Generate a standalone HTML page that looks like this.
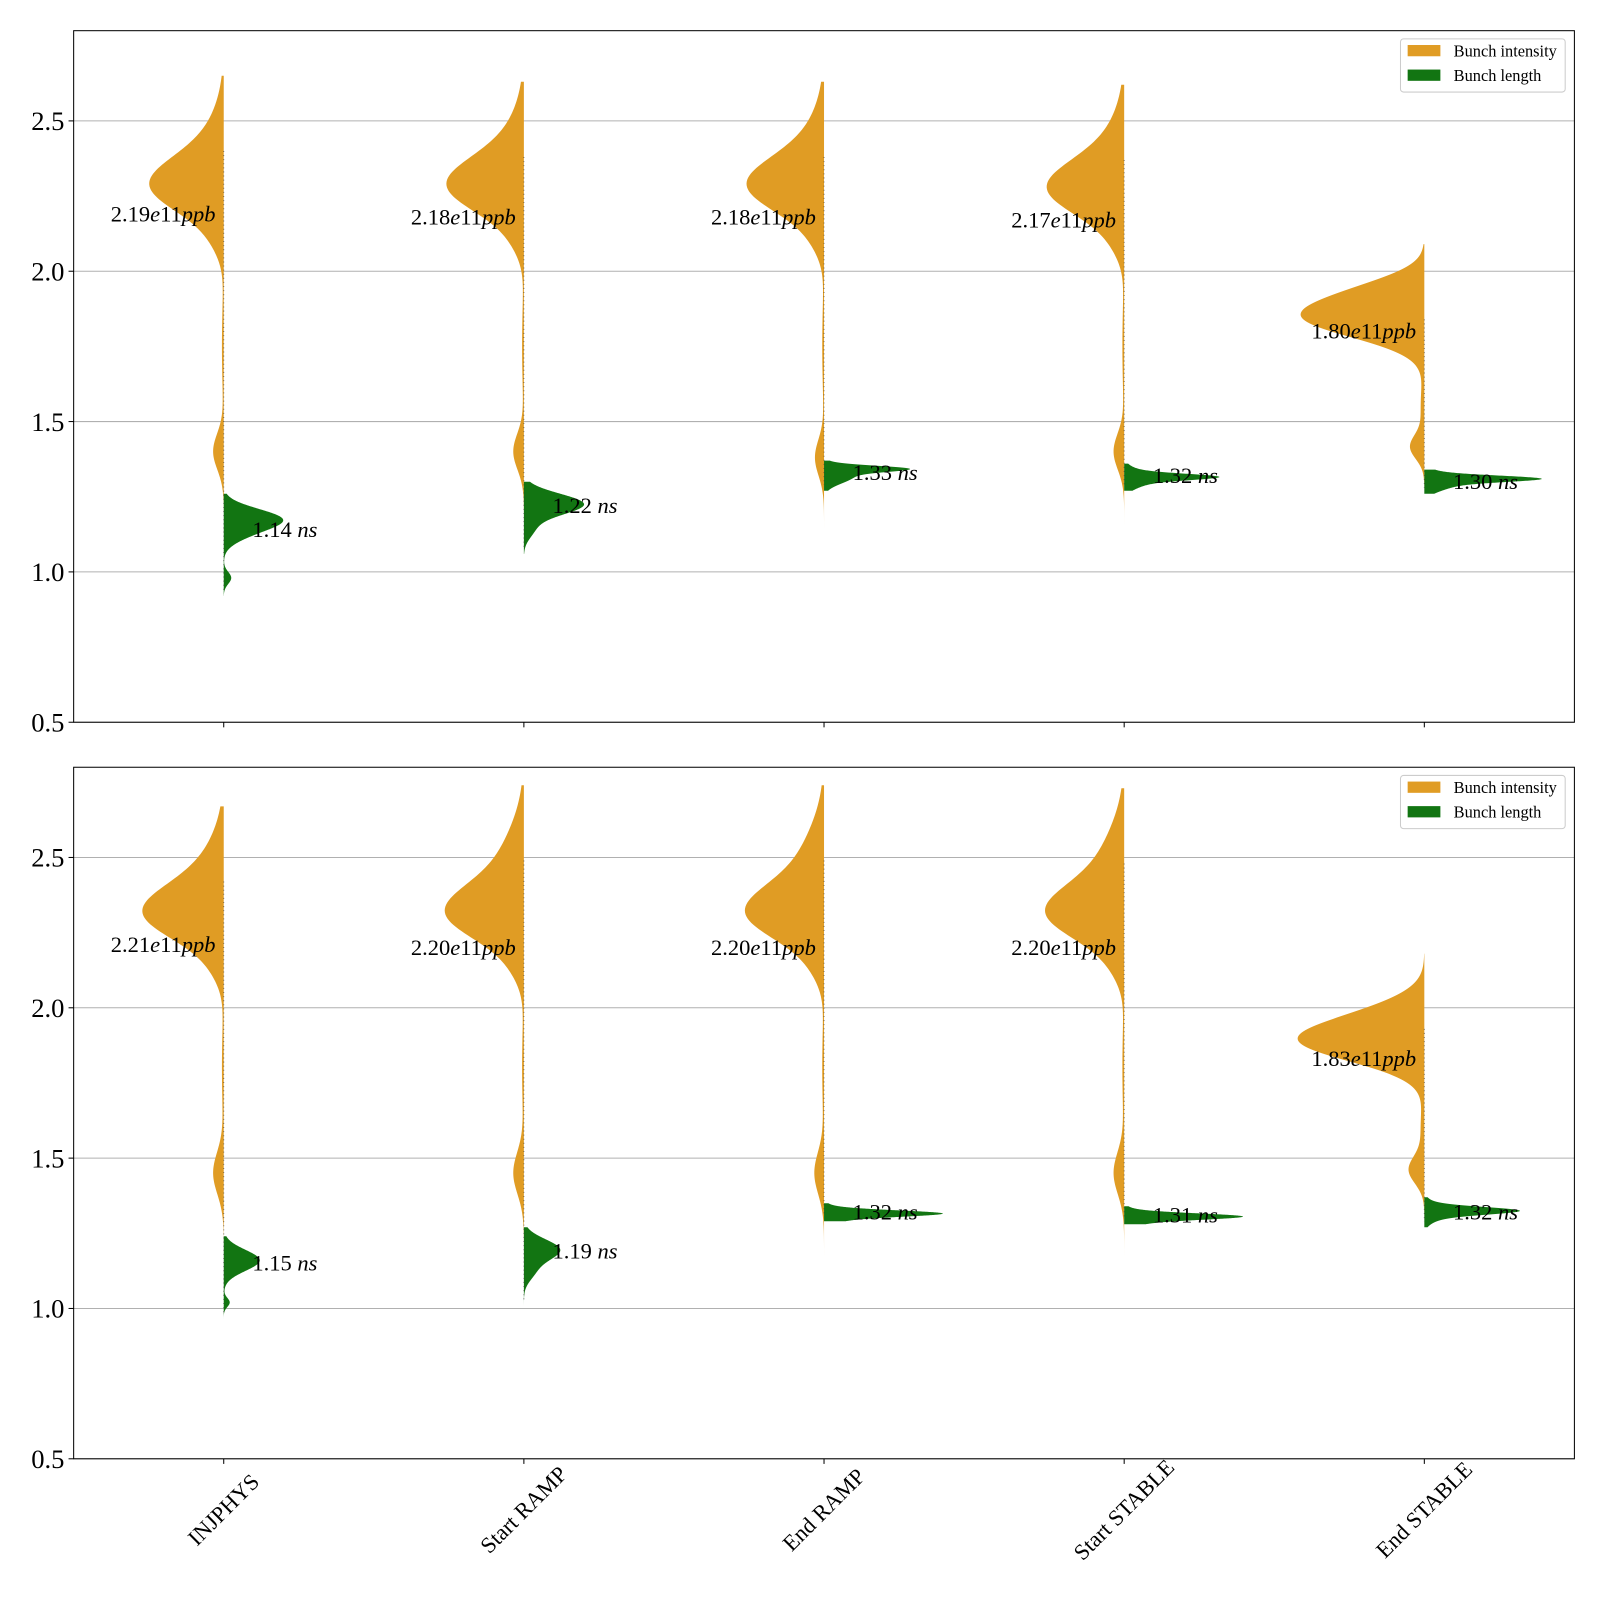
<!DOCTYPE html>
<html><head><meta charset="utf-8"><style>
body{margin:0;background:#fff}
svg text{font-family:"Liberation Serif",serif}
</style></head><body>
<svg id="svgroot" width="1600" height="1600" viewBox="0 0 1600 1600" xmlns="http://www.w3.org/2000/svg"><g id="chart" transform="scale(1.023)"></g></svg>
<script>
const categories = ["INJPHYS","Start RAMP","End RAMP","Start STABLE","End STABLE"];
const yTicks = [0.5,1.0,1.5,2.0,2.5];
const medIntensityTop = [2.19,2.18,2.18,2.17,1.80];
const medLengthTop = [1.14,1.22,1.33,1.32,1.30];
const medIntensityBot = [2.21,2.20,2.20,2.20,1.83];
const medLengthBot = [1.15,1.19,1.32,1.31,1.32];
// density components per violin: [mean, sd, amplitude(category width fraction)]
const intensityCompsTop = [
 [[2.28,0.09,0.21],[2.40,0.12,0.06],[2.10,0.06,0.02],[1.75,0.15,0.006],[1.40,0.06,0.035]],
 [[2.28,0.09,0.22],[2.40,0.12,0.06],[2.10,0.06,0.02],[1.75,0.15,0.006],[1.40,0.06,0.035]],
 [[2.28,0.09,0.22],[2.40,0.12,0.06],[2.10,0.06,0.02],[1.75,0.15,0.006],[1.38,0.06,0.03]],
 [[2.27,0.09,0.22],[2.39,0.12,0.06],[2.09,0.06,0.02],[1.75,0.15,0.006],[1.40,0.06,0.035]],
 [[1.85,0.07,0.40],[1.95,0.05,0.08],[1.415,0.04,0.045],[1.55,0.08,0.012]]
];
const intensityRangeTop = [[1.2,2.65],[1.1,2.63],[1.1,2.63],[1.1,2.62],[1.19,2.09]];
const lengthCompsTop = [
 [[1.175,0.035,0.19],[1.12,0.03,0.04],[0.98,0.02,0.025]],
 [[1.225,0.035,0.20],[1.14,0.03,0.03]],
 [[1.343,0.010,0.22],[1.32,0.025,0.10]],
 [[1.316,0.010,0.22],[1.31,0.025,0.10]],
 [[1.31,0.010,0.28],[1.30,0.025,0.12]]
];
const lengthRangeTop = [[0.92,1.26],[1.06,1.30],[1.27,1.37],[1.27,1.36],[1.26,1.34]];
const intensityCompsBot = [
 [[2.31,0.09,0.23],[2.44,0.12,0.07],[2.13,0.06,0.02],[1.80,0.15,0.006],[1.45,0.07,0.035]],
 [[2.31,0.09,0.22],[2.46,0.13,0.08],[2.13,0.06,0.02],[1.80,0.15,0.006],[1.45,0.07,0.035]],
 [[2.31,0.09,0.22],[2.46,0.13,0.08],[2.13,0.06,0.02],[1.80,0.15,0.006],[1.45,0.07,0.032]],
 [[2.31,0.09,0.22],[2.46,0.13,0.08],[2.13,0.06,0.02],[1.80,0.15,0.006],[1.45,0.07,0.035]],
 [[1.89,0.07,0.40],[1.99,0.06,0.08],[1.46,0.045,0.05],[1.60,0.08,0.012]]
];
const intensityRangeBot = [[1.2,2.67],[1.1,2.74],[1.1,2.74],[1.1,2.73],[1.18,2.18]];
const lengthCompsBot = [
 [[1.16,0.035,0.12],[1.02,0.015,0.02]],
 [[1.195,0.035,0.12],[1.12,0.03,0.03]],
 [[1.316,0.010,0.30],[1.31,0.02,0.10]],
 [[1.306,0.010,0.30],[1.30,0.02,0.10]],
 [[1.325,0.012,0.24],[1.32,0.025,0.08]]
];
const lengthRangeBot = [[0.96,1.24],[1.01,1.27],[1.29,1.35],[1.28,1.34],[1.27,1.37]];

const NS="http://www.w3.org/2000/svg";
const svg=document.getElementById('chart');
function mk(tag,attrs,parent){const e=document.createElementNS(NS,tag);for(const k in attrs)e.setAttribute(k,attrs[k]);(parent||svg).appendChild(e);return e;}
const X0=72,X1=1539,YMIN=0.5,YMAX=2.8;
const catW=(X1-X0)/categories.length;
function xScale(i){return X0+catW*(i+0.5);}
function dens(comps,v){let s=0;for(const c of comps){const z=(v-c[0])/c[1];s+=c[2]*Math.exp(-0.5*z*z);}return s;}

function panel(top,bottom,iComps,iRange,lComps,lRange,medI,medL,showX,pname){
  const g=mk('g',{});
  
  
  const yScale=v=>bottom-(v-YMIN)/(YMAX-YMIN)*(bottom-top);
  yTicks.forEach(t=>{
    const y=yScale(t);
    const l=mk('line',{x1:X0,x2:X1,y1:y,y2:y,stroke:'#b0b0b0','stroke-width':1},g);
    
    
    mk('line',{x1:X0-5,x2:X0,y1:y,y2:y,stroke:'#000'},g);
    const tx=mk('text',{x:X0-9,y:y+9,'text-anchor':'end','font-size':26},g);
    tx.textContent=t.toFixed(1);
    
    
  });
  categories.forEach((c,i)=>{
    const cx=xScale(i);
    mk('line',{x1:cx,x2:cx,y1:bottom,y2:bottom+5,stroke:'#000'},g);
    let d='',lo=iRange[i][0],hi=iRange[i][1];
    const N=240;
    for(let k=0;k<=N;k++){const v=lo+(hi-lo)*k/N;const w=dens(iComps[i],v)*catW;d+=(k?'L':'M')+(cx-w).toFixed(2)+','+yScale(v).toFixed(2);}
    d+='L'+cx+','+yScale(hi)+'L'+cx+','+yScale(lo)+'Z';
    const p1=mk('path',{d:d,fill:'#e09c24'},g);
    
    
    d='';lo=lRange[i][0];hi=lRange[i][1];
    for(let k=0;k<=N;k++){const v=lo+(hi-lo)*k/N;const w=dens(lComps[i],v)*catW;d+=(k?'L':'M')+(cx+w).toFixed(2)+','+yScale(v).toFixed(2);}
    d+='L'+cx+','+yScale(hi)+'L'+cx+','+yScale(lo)+'Z';
    const p2=mk('path',{d:d,fill:'#127512'},g);
    
    
    mk('line',{x1:cx,x2:cx,y1:yScale(iRange[i][1]-0.25),y2:yScale(lRange[i][0]+0.02),stroke:'#333','stroke-width':1,'stroke-dasharray':'1 3',opacity:0.6},g);
    const t1=mk('text',{x:cx-8,y:yScale(medI[i])+7,'text-anchor':'end','font-size':22},g);
    t1.innerHTML=medI[i].toFixed(2)+'<tspan font-style="italic">e</tspan>11<tspan font-style="italic">ppb</tspan>';
    
    
    const t2=mk('text',{x:cx+28,y:yScale(medL[i])+7,'font-size':22},g);
    t2.innerHTML=medL[i].toFixed(2)+' <tspan font-style="italic">ns</tspan>';
    
    
    if(showX){
      const px=cx, py=bottom+50;
      const xt=mk('text',{x:px,y:py+7,'text-anchor':'middle','font-size':22,transform:`rotate(-45 ${px} ${py})`},g);
      xt.textContent=c;
      
      
    }
  });
  const fr=mk('rect',{x:X0,y:top,width:X1-X0,height:bottom-top,fill:'none',stroke:'#000','stroke-width':1},g);
  
  
  const lg=mk('g',{},g);
  
  
  mk('rect',{x:1369,y:top+8,width:161,height:52,rx:3,fill:'#fff',stroke:'#ccc'},lg);
  mk('rect',{x:1376,y:top+14,width:32,height:11,fill:'#e09c24'},lg);
  mk('rect',{x:1376,y:top+38,width:32,height:11,fill:'#127512'},lg);
  const a=mk('text',{x:1421,y:top+25,'font-size':16},lg);a.textContent='Bunch intensity';
  
  
  const b=mk('text',{x:1421,y:top+49,'font-size':16},lg);b.textContent='Bunch length';
  
  
}
panel(30,706,intensityCompsTop,intensityRangeTop,lengthCompsTop,lengthRangeTop,medIntensityTop,medLengthTop,false,'top-panel');
panel(750,1426,intensityCompsBot,intensityRangeBot,lengthCompsBot,lengthRangeBot,medIntensityBot,medLengthBot,true,'bottom-panel');
</script>
</body></html>
